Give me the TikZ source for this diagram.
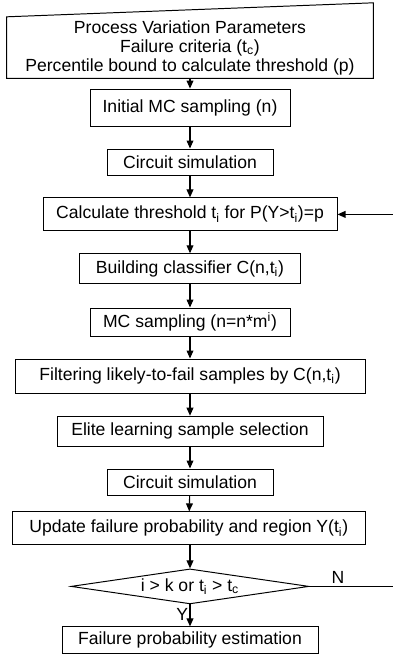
\documentclass[tikz,border=0pt]{standalone}
\usepackage{fontspec}
\setmainfont{Liberation Sans}
\usetikzlibrary{arrows.meta,calc,shapes.geometric}

\begin{document}
\begin{tikzpicture}[>={Triangle[length=2mm,width=1.7mm]},
  box/.style={draw,line width=0.7pt,inner sep=0pt,align=center},
  flow/.style={->,line width=0.8pt}]
\useasboundingbox (0,0) rectangle (9.825,-16.525);
\fontsize{12.5}{13.5}\selectfont

% Inputs
\path
(0,0) node[inner sep=0pt,minimum width=9.15cm,minimum height=1.525cm,align=center] at (4.75,-1.19) (params)
  {Process Variation Parameters\\Failure criteria (t\textsubscript{c})\\Percentile bound to calculate threshold (p)}
;
\draw[line width=0.7pt] (params.south west)--(params.south east)--($(params.north east)+(0,0.35)$)--(params.north west)--cycle;

% Main loop
\path
(0,0)
+(4.75,-2.69)   node[box,minimum width=5cm,minimum height=0.925cm]    (init)  {Initial MC sampling (n)}
+(4.75,-4.05)   node[box,minimum width=4.15cm,minimum height=0.65cm]  (sima)  {Circuit simulation}
+(4.75,-5.36)   node[box,minimum width=7.35cm,minimum height=0.825cm] (thr)   {Calculate threshold t\textsubscript{i} for P(Y>t\textsubscript{i})=p}
+(4.75,-6.72)   node[box,minimum width=5.525cm,minimum height=0.75cm] (cls)   {Building classifier C(n,t\textsubscript{i})}
+(4.75,-8.05)   node[box,minimum width=5cm,minimum height=0.7cm]      (mcs)   {MC sampling (n=n*m\textsuperscript{i})}
+(4.75,-9.40)   node[box,minimum width=8.75cm,minimum height=0.85cm]  (filt)  {Filtering likely-to-fail samples by C(n,t\textsubscript{i})}
+(4.75,-10.78)  node[box,minimum width=6.65cm,minimum height=0.75cm]  (elite) {Elite learning sample selection}
+(4.75,-12.05)  node[box,minimum width=4.15cm,minimum height=0.65cm]  (simb)  {Circuit simulation}
+(4.72,-13.21)  node[box,minimum width=8.825cm,minimum height=0.825cm] (upd)  {Update failure probability and region Y(t\textsubscript{i})}
+(4.75,-14.66)  node[box,diamond,shape aspect=6.8,minimum width=5.95cm,minimum height=0.875cm] (dec) {i > k or t\textsubscript{i} > t\textsubscript{c}}
+(4.75,-16.01)  node[box,minimum width=6.4cm,minimum height=0.675cm]  (final) {Failure probability estimation}
;

\draw[flow] (params)--(init);
\draw[flow] (init)--(sima);
\draw[flow] (sima)--(thr);
\draw[flow] (thr)--(cls);
\draw[flow] (cls)--(mcs);
\draw[flow] (mcs)--(filt);
\draw[flow] (filt)--(elite);
\draw[flow] (elite)--(simb);
\draw[flow] (simb)--(upd);
\draw[flow] (upd.south -| dec.north)--(dec);
\draw[flow] (dec)--(final) node[pos=.45,left,inner sep=1pt]{Y};

% Feedback
\coordinate (back) at (10.1,-14.66);
\draw[flow] (dec.east)--(back) node[pos=.3,above,inner sep=2pt]{N} |- (thr.east);

\end{tikzpicture}
\end{document}
